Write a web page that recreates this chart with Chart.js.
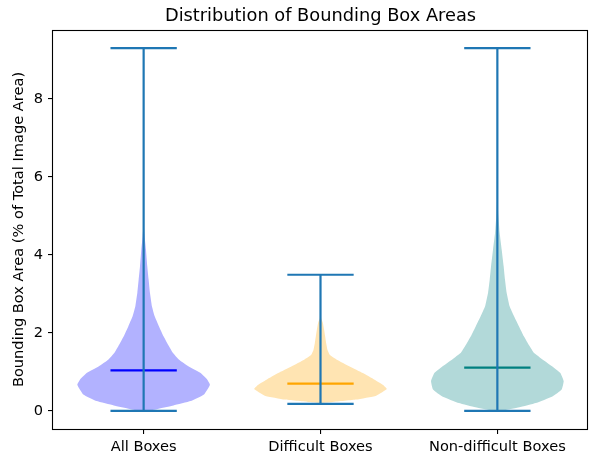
<!DOCTYPE html>
<html>
<head>
<meta charset="utf-8">
<title>Distribution of Bounding Box Areas</title>
<script src="https://cdn.jsdelivr.net/npm/chart.js@4.4.1/dist/chart.umd.min.js"></script>
<style>
  html, body { margin: 0; padding: 0; background: #ffffff; }
  #wrap { width: 591px; height: 458px; }
</style>
</head>
<body>
<div id="wrap"><canvas id="chart" width="591" height="458"></canvas></div>
<script>
// Groups shown along the x axis
const categories = ['All Boxes', 'Difficult Boxes', 'Non-difficult Boxes'];

// Summary statistics (% of total image area)
const minima  = [0, 0.18, 0];
const maxima  = [9.3, 3.49, 9.3];
const medians = [1.04, 0.70, 1.11];

// Kernel density profiles: levels on the value axis and relative density (1 = widest point)
const allLevels  = [0, 0.05, 0.14, 0.25, 0.42, 0.67, 0.80, 0.97, 1.14, 1.32, 1.49, 1.66, 1.91, 2.17, 2.43, 2.68, 3.03, 3.37, 3.71, 4.14, 4.48, 4.73, 5.5, 9.3];
const allDensity = [0.055, 0.21, 0.45, 0.71, 0.91, 1.0, 0.96, 0.86, 0.68, 0.53, 0.44, 0.38, 0.30, 0.23, 0.165, 0.125, 0.095, 0.075, 0.055, 0.035, 0.015, 0.005, 0.002, 0];

const difficultLevels  = [0.18, 0.205, 0.23, 0.29, 0.39, 0.56, 0.67, 0.80, 0.97, 1.14, 1.32, 1.44, 1.57, 1.74, 1.91, 2.08, 2.26, 2.38, 2.6, 3.49];
const difficultDensity = [0, 0.015, 0.19, 0.54, 0.84, 1.0, 0.94, 0.815, 0.64, 0.44, 0.24, 0.14, 0.105, 0.085, 0.07, 0.055, 0.035, 0.01, 0.003, 0];

const nonDifficultLevels  = [0, 0.09, 0.2, 0.37, 0.55, 0.76, 0.97, 1.14, 1.32, 1.49, 1.66, 1.91, 2.17, 2.43, 2.68, 3.03, 3.37, 3.71, 4.14, 4.56, 5.0, 5.4, 9.3];
const nonDifficultDensity = [0.075, 0.33, 0.58, 0.83, 0.97, 1.0, 0.95, 0.83, 0.68, 0.55, 0.485, 0.40, 0.325, 0.25, 0.185, 0.14, 0.115, 0.095, 0.065, 0.035, 0.015, 0.005, 0];

const yTicks = [0, 2, 4, 6, 8];

// ---- drawing setup ----
const FONT = '"DejaVu Sans", sans-serif';
const TICK_SIZE = 14.6;
const TITLE_SIZE = 17.8;
const LINE_W = 2.2;
const violinWidth = 0.75;          // full width of a violin in x units
const capHalf = violinWidth / 4;   // half length of min/max/median lines
const bodyColors   = ['#b2b2ff', '#ffe4b2', '#b2d9d9'];
const medianColors = ['#0000ff', '#ffa500', '#008080'];
const barColor = '#1f77b4';

const profiles = [
  [allLevels, allDensity],
  [difficultLevels, difficultDensity],
  [nonDifficultLevels, nonDifficultDensity]
];

// Closed outline of one violin: left edge upward, right edge downward
function outline(pos, levels, density) {
  const half = violinWidth / 2;
  const left = levels.map((y, i) => ({ x: pos - density[i] * half, y }));
  const right = levels.map((y, i) => ({ x: pos + density[i] * half, y })).reverse();
  return left.concat(right);
}

// Caps at min and max plus the vertical bar, separated by gaps
function bars(pos, lo, hi) {
  return [
    { x: pos - capHalf, y: lo }, { x: pos + capHalf, y: lo }, { x: NaN, y: NaN },
    { x: pos - capHalf, y: hi }, { x: pos + capHalf, y: hi }, { x: NaN, y: NaN },
    { x: pos, y: lo }, { x: pos, y: hi }
  ];
}

const datasets = [];
categories.forEach((name, i) => {
  const pos = i + 1;
  const [lv, dn] = profiles[i];
  datasets.push({
    label: name,
    data: outline(pos, lv, dn),
    showLine: true,
    fill: 'shape',
    backgroundColor: bodyColors[i],
    borderWidth: 0,
    borderColor: 'rgba(0,0,0,0)',
    pointRadius: 0,
    tension: 0.12,
    order: 3
  });
  datasets.push({
    label: name + ' median',
    data: [{ x: pos - capHalf, y: medians[i] }, { x: pos + capHalf, y: medians[i] }],
    showLine: true,
    fill: false,
    borderColor: medianColors[i],
    borderWidth: LINE_W,
    pointRadius: 0,
    order: 2
  });
  datasets.push({
    label: name + ' range',
    data: bars(pos, minima[i], maxima[i]),
    showLine: true,
    spanGaps: false,
    fill: false,
    borderColor: barColor,
    borderWidth: LINE_W,
    pointRadius: 0,
    order: 1
  });
});

// Axes frame and title
const framePlugin = {
  id: 'frame',
  afterDraw(chart) {
    const { ctx, chartArea: a } = chart;
    ctx.save();
    ctx.strokeStyle = '#000';
    ctx.lineWidth = 1.1;
    ctx.strokeRect(Math.round(a.left) - 0.5, Math.round(a.top) + 0.5,
                   Math.round(a.right - a.left), Math.round(a.bottom - a.top));
    ctx.fillStyle = '#000';
    ctx.font = TITLE_SIZE + 'px ' + FONT;
    ctx.textAlign = 'center';
    ctx.textBaseline = 'alphabetic';
    ctx.fillText('Distribution of Bounding Box Areas', (a.left + a.right) / 2, 21);
    ctx.restore();
  }
};

new Chart(document.getElementById('chart'), {
  type: 'scatter',
  data: { datasets },
  plugins: [framePlugin],
  options: {
    responsive: false,
    devicePixelRatio: 1,
    animation: false,
    layout: { padding: { left: 0, top: 30, right: 3, bottom: 0 } },
    plugins: {
      legend: { display: false },
      tooltip: { enabled: false },
      title: { display: false }
    },
    scales: {
      x: {
        type: 'linear',
        min: 0.4875,
        max: 3.5125,
        afterBuildTicks: s => { s.ticks = categories.map((c, i) => ({ value: i + 1 })); },
        afterFit: s => { s.height = 29; },
        ticks: {
          callback: v => categories[v - 1],
          color: '#000',
          font: { family: FONT, size: TICK_SIZE },
          padding: 4,
          maxRotation: 0,
          autoSkip: false
        },
        grid: { drawOnChartArea: false, drawTicks: true, tickLength: 5, color: '#000', lineWidth: 1.1 },
        border: { display: false }
      },
      y: {
        type: 'linear',
        min: -0.465,
        max: 9.765,
        afterBuildTicks: s => { s.ticks = yTicks.map(v => ({ value: v })); },
        afterFit: s => { s.width = 53; },
        ticks: {
          callback: v => String(v),
          color: '#000',
          font: { family: FONT, size: TICK_SIZE },
          padding: 5
        },
        title: {
          display: true,
          text: 'Bounding Box Area (% of Total Image Area)',
          color: '#000',
          font: { family: FONT, size: TICK_SIZE },
          padding: { top: 10.5, bottom: 0 }
        },
        grid: { drawOnChartArea: false, drawTicks: true, tickLength: 5, color: '#000', lineWidth: 1.1 },
        border: { display: false }
      }
    }
  }
});
</script>
</body>
</html>
